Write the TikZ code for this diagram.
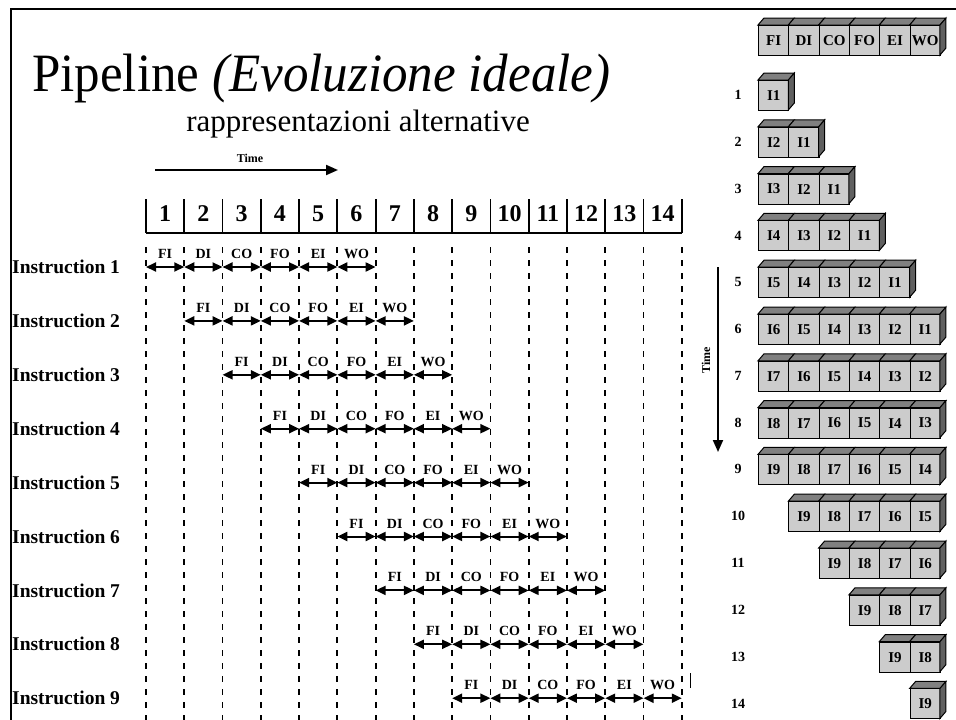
\documentclass[tikz,border=0pt]{standalone}
\usepackage{fontspec}
\setmainfont{Liberation Serif}
\usetikzlibrary{arrows.meta}
\definecolor{frontgray}{RGB}{204,204,204}
\definecolor{topgray}{RGB}{128,128,128}
\definecolor{sidegray}{RGB}{96,96,96}
\begin{document}
\begin{tikzpicture}[x=1pt,y=-1pt,
  instr/.style={font=\fontsize{19.5}{19.5}\selectfont\bfseries, anchor=west, inner sep=0pt},
  stage/.style={font=\fontsize{14}{14}\selectfont\bfseries, inner sep=0pt},
  hnum/.style={font=\fontsize{24}{24}\selectfont\bfseries, inner sep=0pt},
  rlabel/.style={font=\fontsize{14}{14}\selectfont\bfseries, inner sep=0pt},
  dline/.style={line width=1.8pt, dash pattern=on 6pt off 7pt},
  sarrow/.style={line width=2pt, {Triangle[length=10pt,width=9pt]}-{Triangle[length=10pt,width=9pt]}},
  tarrow/.style={line width=2pt, -{Triangle[length=12pt,width=10pt]}},
  cell/.style={draw, line width=1pt, fill=frontgray, minimum width=30.33pt, minimum height=30pt, inner sep=0pt, anchor=north west, font=\fontsize{15}{15}\selectfont\bfseries},
  topface/.style={draw, line width=1pt, fill=topgray},
  sideface/.style={draw, line width=1pt, fill=sidegray}]
\useasboundingbox (0,0) rectangle (956,720);
% frame
\draw[line width=2.5pt] (11,720) -- (11,9) -- (956,9);
% titles
\node[anchor=base west, inner sep=0pt, font=\fontsize{54}{54}\selectfont, xscale=0.945] (title) at (32,91) {Pipeline \textit{(Evoluzione ideale)}};
\node[anchor=base, inner sep=0pt, font=\fontsize{31}{31}\selectfont] (subtitle) at (358,131) {rappresentazioni alternative};
% left time arrow
\node[font=\fontsize{12}{12}\selectfont\bfseries, inner sep=0pt] (time1) at (250,158) {Time};
\coordinate (t1a) at (155,170);
\coordinate (t1b) at (338,170);
\draw[tarrow] (t1a) -- (t1b);
% column lines and header
\foreach \k in {0,...,14} {
  \pgfmathsetmacro\xx{146+38.27*\k}
  \coordinate (vt\k) at (\xx,247);
  \coordinate (vb\k) at (\xx,720);
  \coordinate (ht\k) at (\xx,199);
  \coordinate (hb\k) at (\xx,233);
  \draw[dline] (vt\k) -- (vb\k);
  \draw[line width=1.8pt] (ht\k) -- (hb\k);
}
\draw[line width=1.8pt] (hb0) -- (hb14);
\foreach \k in {1,...,14} {
  \pgfmathsetmacro\xc{146+38.27*(\k-0.5)}
  \node[hnum] (n\k) at (\xc,214) {\k};
}
% instruction rows
\foreach \i in {1,...,9} {
  \pgfmathsetmacro\yy{267+53.9*(\i-1)}
  \node[instr] (in\i) at (12,\yy) {Instruction \i};
  \foreach \s [count=\j from 0] in {FI,DI,CO,FO,EI,WO} {
    \pgfmathsetmacro\xa{146+38.27*(\i-1+\j)}
    \pgfmathsetmacro\xb{\xa+38.27}
    \coordinate (a\i-\j) at (\xa,\yy);
    \coordinate (b\i-\j) at (\xb,\yy);
    \draw[sarrow] (a\i-\j) -- (b\i-\j);
    \node[stage] (s\i-\j) at ({(\xa+\xb)/2},{\yy-13}) {\s};
  }
}
\coordinate (m1) at (690,673);
\coordinate (m2) at (690,688);
\draw[line width=1pt] (m1) -- (m2);
% right time arrow
\node[rotate=90, font=\fontsize{12}{12}\selectfont\bfseries, inner sep=0pt] (time2) at (706,360) {Time};
\coordinate (t2a) at (718,267);
\coordinate (t2b) at (718,452);
\draw[tarrow] (t2a) -- (t2b);
% right header row
\foreach \s [count=\c from 0] in {FI,DI,CO,FO,EI,WO} {
  \pgfmathsetmacro\xl{758+30.33*\c}
  \draw[topface] (\xl,25) -- ++(6,-7) -- ++(30.33,0) -- ++(-6,7) -- cycle;
  \node[cell] (hd\c) at (\xl,25) {\s};
}
\draw[sideface] (939.98,25) -- ++(6,-7) -- ++(0,30) -- ++(-6,7) -- cycle;
% right rows
\foreach \r in {1,...,14} {
  \pgfmathsetmacro\yt{80+46.8*(\r-1)}
  \node[rlabel] (rl\r) at (738,{\yt+15}) {\r};
  \pgfmathtruncatemacro\cmin{max(0,\r-9)}
  \pgfmathtruncatemacro\cmax{min(5,\r-1)}
  \foreach \c in {\cmin,...,\cmax} {
    \pgfmathtruncatemacro\ins{\r-\c}
    \pgfmathsetmacro\xl{758+30.33*\c}
    \draw[topface] (\xl,\yt) -- ++(6,-7) -- ++(30.33,0) -- ++(-6,7) -- cycle;
    \node[cell] (q\r-\c) at (\xl,\yt) {I\ins};
  }
  \pgfmathsetmacro\xr{758+30.33*(\cmax+1)}
  \draw[sideface] (\xr,\yt) -- ++(6,-7) -- ++(0,30) -- ++(-6,7) -- cycle;
}
\end{tikzpicture}
\end{document}
